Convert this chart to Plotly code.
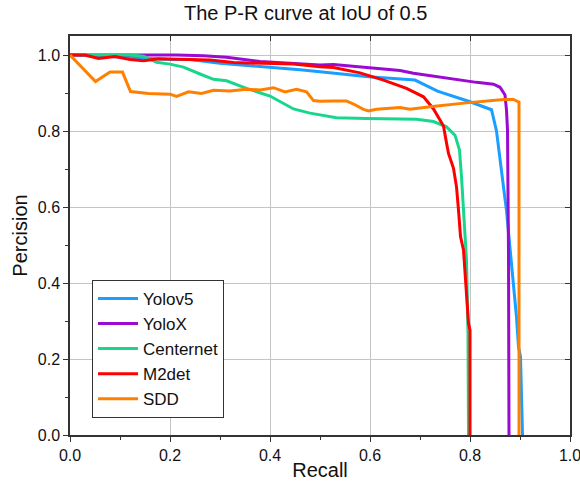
import plotly.graph_objects as go

# ---- data ----
yolov5_r = [0.0, 0.05, 0.10, 0.20, 0.24, 0.30, 0.40, 0.46, 0.50, 0.597, 0.69, 0.735, 0.80, 0.843, 0.853, 0.873, 0.893, 0.897, 0.901, 0.905]
yolov5_p = [1.0, 0.998, 0.995, 0.988, 0.988, 0.978, 0.968, 0.961, 0.956, 0.943, 0.934, 0.905, 0.877, 0.856, 0.80, 0.59, 0.31, 0.232, 0.206, 0.0]

yolox_r = [0.0, 0.12, 0.213, 0.267, 0.313, 0.38, 0.447, 0.50, 0.527, 0.593, 0.66, 0.687, 0.753, 0.813, 0.847, 0.86, 0.87, 0.873, 0.875, 0.876, 0.877, 0.878]
yolox_p = [1.0, 1.0, 1.0, 0.998, 0.994, 0.983, 0.978, 0.974, 0.975, 0.968, 0.959, 0.952, 0.939, 0.928, 0.923, 0.915, 0.895, 0.855, 0.803, 0.69, 0.479, 0.0]

centernet_r = [0.0, 0.12, 0.147, 0.173, 0.20, 0.227, 0.26, 0.287, 0.313, 0.353, 0.40, 0.447, 0.48, 0.50, 0.533, 0.593, 0.647, 0.693, 0.727, 0.753, 0.77, 0.779, 0.783, 0.787, 0.791, 0.793, 0.796, 0.797]
centernet_p = [1.0, 1.0, 0.997, 0.981, 0.976, 0.968, 0.95, 0.936, 0.932, 0.912, 0.892, 0.858, 0.847, 0.842, 0.835, 0.833, 0.831, 0.831, 0.825, 0.811, 0.789, 0.75, 0.68, 0.60, 0.522, 0.461, 0.268, 0.0]

m2det_r = [0.0, 0.03, 0.057, 0.09, 0.12, 0.147, 0.177, 0.20, 0.233, 0.28, 0.327, 0.393, 0.447, 0.50, 0.527, 0.58, 0.627, 0.673, 0.707, 0.727, 0.747, 0.752, 0.757, 0.767, 0.773, 0.777, 0.781, 0.787, 0.793, 0.797, 0.80, 0.80]
m2det_p = [1.0, 1.0, 0.991, 0.996, 0.988, 0.985, 0.99, 0.989, 0.988, 0.987, 0.98, 0.978, 0.976, 0.969, 0.967, 0.953, 0.934, 0.912, 0.89, 0.858, 0.813, 0.776, 0.741, 0.702, 0.653, 0.592, 0.522, 0.487, 0.355, 0.294, 0.276, 0.0]

sdd_r = [0.0, 0.051, 0.08, 0.105, 0.121, 0.157, 0.20, 0.213, 0.237, 0.263, 0.287, 0.32, 0.353, 0.38, 0.407, 0.43, 0.453, 0.473, 0.487, 0.50, 0.527, 0.553, 0.567, 0.587, 0.597, 0.613, 0.64, 0.66, 0.68, 0.72, 0.793, 0.867, 0.887, 0.898, 0.898]
sdd_p = [1.0, 0.930, 0.955, 0.955, 0.904, 0.899, 0.897, 0.891, 0.903, 0.899, 0.907, 0.905, 0.91, 0.908, 0.914, 0.903, 0.91, 0.903, 0.880, 0.878, 0.879, 0.879, 0.871, 0.857, 0.853, 0.857, 0.86, 0.862, 0.857, 0.864, 0.874, 0.883, 0.883, 0.876, 0.0]

series_names = ["Yolov5", "YoloX", "Centernet", "M2det", "SDD"]
series_colors = ["#1A9EFF", "#9B0AD0", "#1AD68C", "#FF0000", "#FF8000"]
series_data = [(yolov5_r, yolov5_p), (yolox_r, yolox_p), (centernet_r, centernet_p),
               (m2det_r, m2det_p), (sdd_r, sdd_p)]

x_ticks = [0.0, 0.2, 0.4, 0.6, 0.8, 1.0]
y_ticks = [0.0, 0.2, 0.4, 0.6, 0.8, 1.0]

FONT = "Liberation Sans, Arial, sans-serif"

fig = go.Figure()
for name, color, (r, p) in zip(series_names, series_colors, series_data):
    fig.add_trace(go.Scatter(x=r, y=p, mode="lines", name=name,
                             line=dict(color=color, width=3)))

# invisible helper trace so the top/right frame axes (with inward ticks) are drawn
fig.add_trace(go.Scatter(x=[x_ticks[0]], y=[y_ticks[0]], xaxis="x2", yaxis="y2",
                         mode="markers", marker=dict(opacity=0),
                         showlegend=False, hoverinfo="skip"))

axis_common = dict(showline=True, linecolor="#333333", linewidth=1.5,
                   gridcolor="#c4c4c4", gridwidth=1, zeroline=False,
                   ticks="outside", ticklen=5, tickwidth=1.2, tickcolor="#333333",
                   tickfont=dict(family=FONT, size=16, color="#111111"),
                   tickformat=".1f", ticklabeloverflow="allow")

fig.update_layout(
    width=580, height=493,
    paper_bgcolor="white", plot_bgcolor="white",
    margin=dict(l=70, r=10, t=36, b=58, autoexpand=False),
    title=dict(text="The P-R curve at IoU of 0.5", x=0.527, xanchor="center",
               y=0.974, yanchor="middle", yref="container",
               font=dict(family=FONT, size=20, color="#111111")),
    xaxis=dict(range=[0, 1], tickvals=x_ticks,
               minor=dict(ticks="outside", ticklen=3, dtick=0.1, tick0=0, showgrid=False, tickcolor="#333333"),
               title=dict(text="Recall", font=dict(family=FONT, size=20, color="#111111"), standoff=0),
               **axis_common),
    yaxis=dict(range=[0, 1.05], tickvals=y_ticks,
               minor=dict(ticks="outside", ticklen=3, dtick=0.1, tick0=0, showgrid=False, tickcolor="#333333"),
               title=dict(text="Percision", font=dict(family=FONT, size=20, color="#111111"), standoff=5),
               **axis_common),
    xaxis2=dict(overlaying="x", side="top", range=[0, 1], tickvals=x_ticks,
                ticks="inside", ticklen=5, tickwidth=1.2, tickcolor="#333333", showticklabels=False,
                showgrid=False, zeroline=False, showline=True, linecolor="#333333", linewidth=1.5),
    yaxis2=dict(overlaying="y", side="right", range=[0, 1.05], tickvals=y_ticks,
                ticks="inside", ticklen=5, tickwidth=1.2, tickcolor="#333333", showticklabels=False,
                showgrid=False, zeroline=False, showline=True, linecolor="#333333", linewidth=1.5),
    legend=dict(x=0.044, y=0.043, xanchor="left", yanchor="bottom",
                bgcolor="white", bordercolor="#333333", borderwidth=1,
                font=dict(family=FONT, size=17, color="#111111"),
                tracegroupgap=0, itemwidth=40),
    showlegend=True,
)

fig.write_html("out.html", config={"displayModeBar": False},
               post_script="document.body.style.margin='0';")
